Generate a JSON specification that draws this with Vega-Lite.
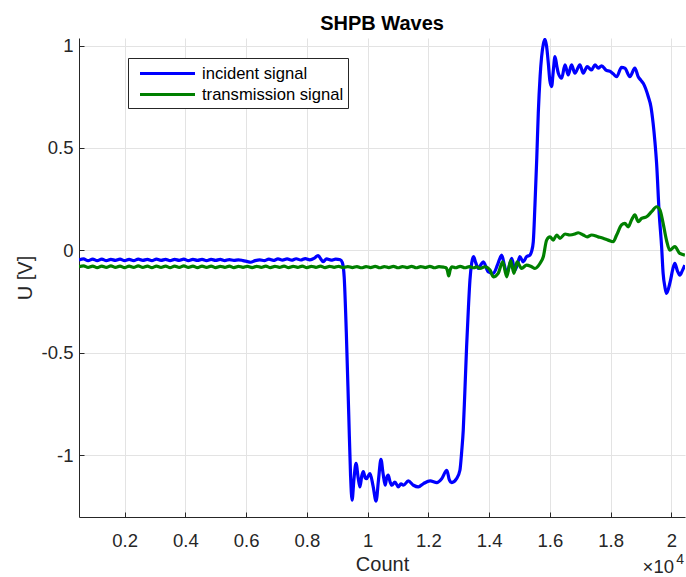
{
  "$schema": "https://vega.github.io/schema/vega-lite/v6.json",
  "autosize": {"type": "none"},
  "padding": {"left": 79, "top": 38, "right": 1, "bottom": 60},
  "width": 606,
  "height": 479,
  "background": "white",
  "title": {"text": "SHPB Waves", "fontSize": 20, "fontWeight": "bold", "font": "Liberation Sans", "color": "#000000", "offset": 3, "anchor": "middle"},
  "config": {
    "view": {"stroke": null},
    "axis": {"domainColor": "#262626", "tickColor": "#262626", "labelColor": "#262626", "titleColor": "#262626", "gridColor": "#e3e3e3", "labelFont": "Liberation Sans", "titleFont": "Liberation Sans", "labelFontSize": 18.5, "titleFontSize": 20, "titleFontWeight": "normal", "tickSize": -5, "domainWidth": 1}
  },
  "datasets": {
    "incident": [
      {"c":500,"u":-0.047},{"c":650,"u":-0.042},{"c":800,"u":-0.05},{"c":950,"u":-0.043},{"c":1100,"u":-0.05},{"c":1250,"u":-0.043},{"c":1400,"u":-0.05},{"c":1550,"u":-0.044},{"c":1700,"u":-0.049},{"c":1850,"u":-0.043},{"c":2000,"u":-0.05},{"c":2150,"u":-0.044},{"c":2300,"u":-0.05},{"c":2450,"u":-0.043},{"c":2600,"u":-0.049},{"c":2750,"u":-0.044},{"c":2900,"u":-0.05},{"c":3050,"u":-0.043},{"c":3200,"u":-0.049},{"c":3350,"u":-0.044},{"c":3500,"u":-0.05},{"c":3650,"u":-0.044},{"c":3800,"u":-0.049},{"c":3950,"u":-0.043},{"c":4100,"u":-0.05},{"c":4250,"u":-0.044},{"c":4400,"u":-0.049},{"c":4550,"u":-0.044},{"c":4700,"u":-0.05},{"c":4850,"u":-0.044},{"c":5000,"u":-0.049},{"c":5150,"u":-0.044},{"c":5300,"u":-0.05},{"c":5450,"u":-0.045},{"c":5600,"u":-0.049},{"c":5750,"u":-0.046},{"c":5900,"u":-0.05},{"c":6050,"u":-0.055},{"c":6150,"u":-0.058},{"c":6300,"u":-0.05},{"c":6450,"u":-0.046},{"c":6600,"u":-0.05},{"c":6750,"u":-0.043},{"c":6900,"u":-0.049},{"c":7050,"u":-0.042},{"c":7200,"u":-0.048},{"c":7350,"u":-0.042},{"c":7500,"u":-0.048},{"c":7650,"u":-0.041},{"c":7800,"u":-0.047},{"c":7950,"u":-0.04},{"c":8100,"u":-0.046},{"c":8250,"u":-0.038},{"c":8370,"u":-0.025},{"c":8450,"u":-0.04},{"c":8530,"u":-0.055},{"c":8650,"u":-0.042},{"c":8800,"u":-0.048},{"c":8950,"u":-0.043},{"c":9100,"u":-0.046},{"c":9170,"u":-0.06},{"c":9230,"u":-0.13},{"c":9300,"u":-0.4},{"c":9380,"u":-0.8},{"c":9440,"u":-1.1},{"c":9490,"u":-1.22},{"c":9550,"u":-1.12},{"c":9620,"u":-1.04},{"c":9690,"u":-1.11},{"c":9750,"u":-1.155},{"c":9810,"u":-1.1},{"c":9860,"u":-1.08},{"c":9920,"u":-1.11},{"c":9970,"u":-1.115},{"c":10030,"u":-1.1},{"c":10080,"u":-1.09},{"c":10180,"u":-1.15},{"c":10280,"u":-1.224},{"c":10360,"u":-1.12},{"c":10440,"u":-1.02},{"c":10510,"u":-1.09},{"c":10580,"u":-1.147},{"c":10630,"u":-1.11},{"c":10680,"u":-1.098},{"c":10740,"u":-1.13},{"c":10800,"u":-1.147},{"c":10900,"u":-1.131},{"c":11010,"u":-1.155},{"c":11100,"u":-1.14},{"c":11180,"u":-1.147},{"c":11340,"u":-1.126},{"c":11510,"u":-1.147},{"c":11670,"u":-1.155},{"c":11840,"u":-1.139},{"c":12060,"u":-1.126},{"c":12280,"u":-1.134},{"c":12440,"u":-1.115},{"c":12610,"u":-1.074},{"c":12690,"u":-1.12},{"c":12770,"u":-1.134},{"c":12930,"u":-1.115},{"c":13040,"u":-1.074},{"c":13100,"u":-0.98},{"c":13150,"u":-0.878},{"c":13200,"u":-0.7},{"c":13260,"u":-0.471},{"c":13320,"u":-0.28},{"c":13370,"u":-0.145},{"c":13430,"u":-0.06},{"c":13490,"u":-0.031},{"c":13560,"u":-0.06},{"c":13645,"u":-0.088},{"c":13730,"u":-0.07},{"c":13810,"u":-0.056},{"c":13975,"u":-0.105},{"c":14140,"u":-0.112},{"c":14280,"u":-0.07},{"c":14415,"u":-0.023},{"c":14500,"u":-0.07},{"c":14580,"u":-0.112},{"c":14660,"u":-0.08},{"c":14745,"u":-0.039},{"c":14850,"u":-0.096},{"c":14930,"u":-0.07},{"c":15015,"u":-0.031},{"c":15125,"u":-0.056},{"c":15235,"u":-0.031},{"c":15345,"u":-0.023},{"c":15400,"u":-0.005},{"c":15455,"u":0.042},{"c":15510,"u":0.22},{"c":15570,"u":0.45},{"c":15620,"u":0.67},{"c":15680,"u":0.85},{"c":15730,"u":0.946},{"c":15790,"u":1.01},{"c":15840,"u":1.03},{"c":15890,"u":1.0},{"c":15950,"u":0.914},{"c":16000,"u":0.83},{"c":16060,"u":0.8},{"c":16110,"u":0.87},{"c":16170,"u":0.946},{"c":16230,"u":0.9},{"c":16280,"u":0.865},{"c":16390,"u":0.841},{"c":16500,"u":0.906},{"c":16605,"u":0.857},{"c":16715,"u":0.906},{"c":16825,"u":0.865},{"c":16990,"u":0.906},{"c":17100,"u":0.865},{"c":17230,"u":0.897},{"c":17375,"u":0.881},{"c":17485,"u":0.906},{"c":17590,"u":0.89},{"c":17705,"u":0.901},{"c":17870,"u":0.878},{"c":17980,"u":0.875},{"c":18085,"u":0.862},{"c":18200,"u":0.848},{"c":18360,"u":0.894},{"c":18470,"u":0.89},{"c":18635,"u":0.848},{"c":18800,"u":0.89},{"c":18910,"u":0.848},{"c":19000,"u":0.83},{"c":19075,"u":0.816},{"c":19240,"u":0.751},{"c":19330,"u":0.7},{"c":19400,"u":0.621},{"c":19460,"u":0.53},{"c":19515,"u":0.425},{"c":19600,"u":0.181},{"c":19680,"u":0.018},{"c":19730,"u":-0.112},{"c":19790,"u":-0.18},{"c":19840,"u":-0.21},{"c":19900,"u":-0.19},{"c":19975,"u":-0.145},{"c":20050,"u":-0.09},{"c":20115,"u":-0.064},{"c":20200,"u":-0.1},{"c":20280,"u":-0.121},{"c":20360,"u":-0.1},{"c":20445,"u":-0.072}
    ],
    "transmission": [
      {"c":500,"u":-0.08},{"c":650,"u":-0.076},{"c":800,"u":-0.083},{"c":950,"u":-0.077},{"c":1100,"u":-0.084},{"c":1250,"u":-0.077},{"c":1400,"u":-0.083},{"c":1550,"u":-0.076},{"c":1700,"u":-0.083},{"c":1850,"u":-0.077},{"c":2000,"u":-0.084},{"c":2150,"u":-0.077},{"c":2300,"u":-0.083},{"c":2450,"u":-0.076},{"c":2600,"u":-0.083},{"c":2750,"u":-0.077},{"c":2900,"u":-0.084},{"c":3050,"u":-0.077},{"c":3200,"u":-0.083},{"c":3350,"u":-0.077},{"c":3500,"u":-0.084},{"c":3650,"u":-0.077},{"c":3800,"u":-0.083},{"c":3950,"u":-0.076},{"c":4100,"u":-0.083},{"c":4250,"u":-0.077},{"c":4400,"u":-0.084},{"c":4550,"u":-0.077},{"c":4700,"u":-0.083},{"c":4850,"u":-0.077},{"c":5000,"u":-0.084},{"c":5150,"u":-0.078},{"c":5300,"u":-0.083},{"c":5450,"u":-0.077},{"c":5600,"u":-0.084},{"c":5750,"u":-0.078},{"c":5900,"u":-0.083},{"c":6050,"u":-0.078},{"c":6200,"u":-0.084},{"c":6350,"u":-0.078},{"c":6500,"u":-0.083},{"c":6650,"u":-0.077},{"c":6800,"u":-0.084},{"c":6950,"u":-0.078},{"c":7100,"u":-0.083},{"c":7250,"u":-0.077},{"c":7400,"u":-0.084},{"c":7550,"u":-0.078},{"c":7700,"u":-0.083},{"c":7850,"u":-0.077},{"c":8000,"u":-0.084},{"c":8150,"u":-0.078},{"c":8300,"u":-0.083},{"c":8450,"u":-0.077},{"c":8600,"u":-0.084},{"c":8750,"u":-0.078},{"c":8900,"u":-0.083},{"c":9050,"u":-0.078},{"c":9200,"u":-0.084},{"c":9350,"u":-0.079},{"c":9500,"u":-0.084},{"c":9650,"u":-0.079},{"c":9800,"u":-0.085},{"c":9950,"u":-0.079},{"c":10100,"u":-0.084},{"c":10250,"u":-0.078},{"c":10400,"u":-0.085},{"c":10550,"u":-0.079},{"c":10700,"u":-0.084},{"c":10850,"u":-0.078},{"c":11000,"u":-0.085},{"c":11150,"u":-0.079},{"c":11300,"u":-0.084},{"c":11450,"u":-0.078},{"c":11600,"u":-0.085},{"c":11750,"u":-0.079},{"c":11900,"u":-0.084},{"c":12050,"u":-0.078},{"c":12200,"u":-0.085},{"c":12350,"u":-0.079},{"c":12500,"u":-0.082},{"c":12580,"u":-0.085},{"c":12630,"u":-0.1},{"c":12670,"u":-0.125},{"c":12720,"u":-0.095},{"c":12780,"u":-0.08},{"c":12900,"u":-0.085},{"c":13050,"u":-0.078},{"c":13200,"u":-0.085},{"c":13350,"u":-0.079},{"c":13500,"u":-0.085},{"c":13600,"u":-0.08},{"c":13700,"u":-0.088},{"c":13865,"u":-0.08},{"c":14030,"u":-0.096},{"c":14140,"u":-0.129},{"c":14300,"u":-0.112},{"c":14450,"u":-0.056},{"c":14580,"u":-0.129},{"c":14710,"u":-0.05},{"c":14820,"u":-0.112},{"c":14920,"u":-0.056},{"c":15070,"u":-0.088},{"c":15235,"u":-0.072},{"c":15400,"u":-0.08},{"c":15510,"u":-0.088},{"c":15675,"u":-0.064},{"c":15785,"u":-0.031},{"c":15895,"u":0.05},{"c":16005,"u":0.066},{"c":16110,"u":0.05},{"c":16225,"u":0.075},{"c":16335,"u":0.059},{"c":16500,"u":0.08},{"c":16660,"u":0.075},{"c":16825,"u":0.08},{"c":16935,"u":0.086},{"c":17100,"u":0.075},{"c":17230,"u":0.066},{"c":17375,"u":0.075},{"c":17590,"u":0.066},{"c":17755,"u":0.059},{"c":17920,"u":0.05},{"c":18085,"u":0.042},{"c":18200,"u":0.075},{"c":18360,"u":0.124},{"c":18470,"u":0.132},{"c":18580,"u":0.115},{"c":18690,"u":0.148},{"c":18800,"u":0.173},{"c":18910,"u":0.14},{"c":19020,"u":0.156},{"c":19185,"u":0.164},{"c":19350,"u":0.189},{"c":19515,"u":0.213},{"c":19625,"u":0.197},{"c":19730,"u":0.132},{"c":19840,"u":0.05},{"c":19950,"u":0.001},{"c":20115,"u":0.018},{"c":20280,"u":-0.015},{"c":20445,"u":-0.023}
    ],
    "exponent": [{"c":20450,"u":-1.302,"t":"×10","k":"base"},{"c":20450,"u":-1.302,"t":"4","k":"sup"}]
  },
  "layer": [
    {
      "data": {"name": "incident"},
      "mark": {"type": "line", "strokeWidth": 3.2, "interpolate": "monotone", "clip": true},
      "encoding": {
        "x": {"field": "c", "type": "quantitative", "scale": {"domain": [500, 20450], "nice": false, "zero": false},
          "axis": {"title": "Count", "values": [2000,4000,6000,8000,10000,12000,14000,16000,18000,20000], "labelExpr": "'' + (datum.value/10000)", "labelPadding": 19, "titlePadding": 5, "grid": true}},
        "y": {"field": "u", "type": "quantitative", "scale": {"domain": [-1.302, 1.037], "nice": false, "zero": false},
          "axis": {"title": "U [V]", "values": [-1,-0.5,0,0.5,1], "labelExpr": "'' + datum.value", "labelPadding": 11, "titlePadding": 6, "grid": true}},
        "color": {"datum": "incident signal", "type": "nominal",
          "scale": {"domain": ["incident signal", "transmission signal"], "range": ["#0000ff", "#008000"]},
          "legend": {"title": null, "orient": "none", "legendX": 49, "legendY": 20, "symbolType": "M-2.75,0H2.75", "symbolStrokeWidth": 3, "symbolSize": 400, "symbolOffset": 24, "labelFontSize": 16.6, "labelFont": "Liberation Sans", "labelColor": "#000000", "strokeColor": "#262626", "fillColor": "white", "padding": 4, "rowPadding": 0, "labelOffset": 23}}
      }
    },
    {
      "data": {"name": "transmission"},
      "mark": {"type": "line", "strokeWidth": 3.2, "interpolate": "monotone", "clip": true},
      "encoding": {
        "x": {"field": "c", "type": "quantitative"},
        "y": {"field": "u", "type": "quantitative"},
        "color": {"datum": "transmission signal", "type": "nominal"}
      }
    },
    {
      "data": {"name": "exponent"},
      "transform": [{"filter": "datum.k == 'base'"}],
      "mark": {"type": "text", "align": "right", "baseline": "alphabetic", "dy": 56, "dx": -11, "fontSize": 18.5, "font": "Liberation Sans", "color": "#262626"},
      "encoding": {
        "x": {"field": "c", "type": "quantitative"},
        "y": {"field": "u", "type": "quantitative"},
        "text": {"field": "t"}
      }
    },
    {
      "data": {"name": "exponent"},
      "transform": [{"filter": "datum.k == 'sup'"}],
      "mark": {"type": "text", "align": "right", "baseline": "alphabetic", "dy": 47, "dx": -1, "fontSize": 14, "font": "Liberation Sans", "color": "#262626"},
      "encoding": {
        "x": {"field": "c", "type": "quantitative"},
        "y": {"field": "u", "type": "quantitative"},
        "text": {"field": "t"}
      }
    }
  ]
}
